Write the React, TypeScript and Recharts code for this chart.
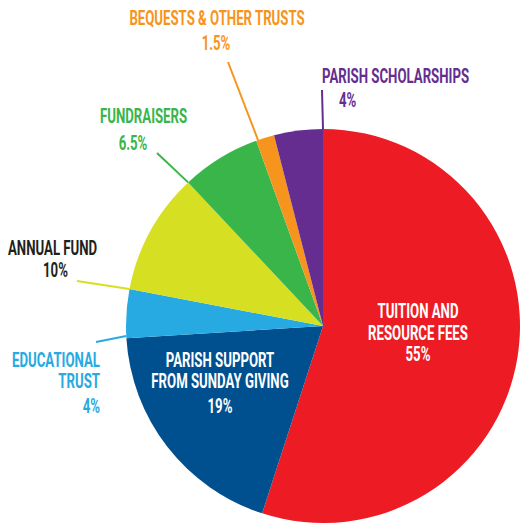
import { PieChart, Pie, Cell } from 'recharts';

const sources = [
  'Tuition and Resource Fees',
  'Parish Support from Sunday Giving',
  'Educational Trust',
  'Annual Fund',
  'Fundraisers',
  'Bequests & Other Trusts',
  'Parish Scholarships',
];
const shares = [55, 19, 4, 10, 6.5, 1.5, 4];
const shareLabels = ['55%', '19%', '4%', '10%', '6.5%', '1.5%', '4%'];
const colors = ['#ed1c24', '#00508f', '#27aae1', '#d7df23', '#39b54a', '#f7941d', '#662d91'];

const data = sources.map((name, i) => ({ name, value: shares[i], pct: shareLabels[i] }));

const FONT = "Roboto, 'DejaVu Sans Condensed', sans-serif";
const RADIAN = Math.PI / 180;

// label placement, offsets from the pie centre
type Line = { text: string; x: number; y: number; anchor: 'start' | 'middle' | 'end' };
type Layout = { color: string; lineColor?: string; lines: Line[]; leader?: { x: number; y: number; t: number } };

const layout: Record<string, Layout> = {
  'Tuition and Resource Fees': {
    color: '#ffffff',
    lines: [
      { text: 'TUITION AND', x: 95, y: -8, anchor: 'middle' },
      { text: 'RESOURCE FEES', x: 95, y: 14, anchor: 'middle' },
      { text: '%', x: 95, y: 35, anchor: 'middle' },
    ],
  },
  'Parish Support from Sunday Giving': {
    color: '#ffffff',
    lines: [
      { text: 'PARISH SUPPORT', x: -103, y: 41, anchor: 'middle' },
      { text: 'FROM SUNDAY GIVING', x: -103, y: 62, anchor: 'middle' },
      { text: '%', x: -103, y: 87, anchor: 'middle' },
    ],
  },
  'Educational Trust': {
    color: '#27aae1',
    lines: [
      { text: 'EDUCATIONAL', x: -223, y: 41, anchor: 'end' },
      { text: 'TRUST', x: -223, y: 62, anchor: 'end' },
      { text: '%', x: -223, y: 87, anchor: 'end' },
    ],
    leader: { x: -227, y: 16, t: 0.05 },
  },
  'Annual Fund': {
    color: '#231f20',
    lineColor: '#d7df23',
    lines: [
      { text: 'ANNUAL FUND', x: -315, y: -71, anchor: 'start' },
      { text: '%', x: -280, y: -49, anchor: 'start' },
    ],
    leader: { x: -246, y: -45, t: 0 },
  },
  Fundraisers: {
    color: '#39b54a',
    lines: [
      { text: 'FUNDRAISERS', x: -223, y: -203, anchor: 'start' },
      { text: '%', x: -190, y: -176, anchor: 'middle' },
    ],
    leader: { x: -166, y: -173, t: 0 },
  },
  'Bequests & Other Trusts': {
    color: '#f7941d',
    lines: [
      { text: 'BEQUESTS & OTHER TRUSTS', x: -106, y: -301, anchor: 'middle' },
      { text: '%', x: -107, y: -276, anchor: 'middle' },
    ],
    leader: { x: -95, y: -264, t: 0.1 },
  },
  'Parish Scholarships': {
    color: '#662d91',
    lines: [
      { text: 'PARISH SCHOLARSHIPS', x: -1, y: -243, anchor: 'start' },
      { text: '%', x: 16, y: -219, anchor: 'start' },
    ],
    leader: { x: -1, y: -236, t: 1 },
  },
};

const SCALE_X = 0.66;

function renderLabel(props: any) {
  const { cx, cy, outerRadius, startAngle, endAngle, payload, name } = props;
  const key = payload?.name ?? name;
  const cfg = layout[key];
  if (!cfg) return null;
  let leader = null;
  if (cfg.leader) {
    const a = startAngle + cfg.leader.t * (endAngle - startAngle);
    const ex = cx + outerRadius * Math.cos(-a * RADIAN);
    const ey = cy + outerRadius * Math.sin(-a * RADIAN);
    leader = (
      <line
        x1={cx + cfg.leader.x}
        y1={cy + cfg.leader.y}
        x2={ex}
        y2={ey}
        stroke={cfg.lineColor ?? cfg.color}
        strokeWidth={2}
      />
    );
  }
  return (
    <g>
      {leader}
      {cfg.lines.map((l, i) => (
        <text
          key={i}
          transform={`translate(${cx + l.x},${cy + l.y}) scale(${SCALE_X},1)`}
          x={0}
          y={0}
          textAnchor={l.anchor}
          fill={cfg.color}
          fontFamily={FONT}
          fontWeight={700}
          fontSize={20}
        >
          {l.text === '%' ? payload.pct : l.text}
        </text>
      ))}
    </g>
  );
}

export default function App() {
  return (
    <div style={{ position: 'absolute', left: 0, top: 0, width: 520, height: 524, background: '#fff' }}>
      <PieChart width={520} height={524} margin={{ top: 0, right: 0, bottom: 0, left: 0 }}>
        <Pie
          data={data}
          dataKey="value"
          nameKey="name"
          cx={323}
          cy={326}
          outerRadius={197}
          startAngle={90}
          endAngle={-270}
          stroke="none"
          label={renderLabel}
          labelLine={false}
          isAnimationActive={false}
        >
          {data.map((d, i) => (
            <Cell key={d.name} fill={colors[i]} />
          ))}
        </Pie>
      </PieChart>
    </div>
  );
}
